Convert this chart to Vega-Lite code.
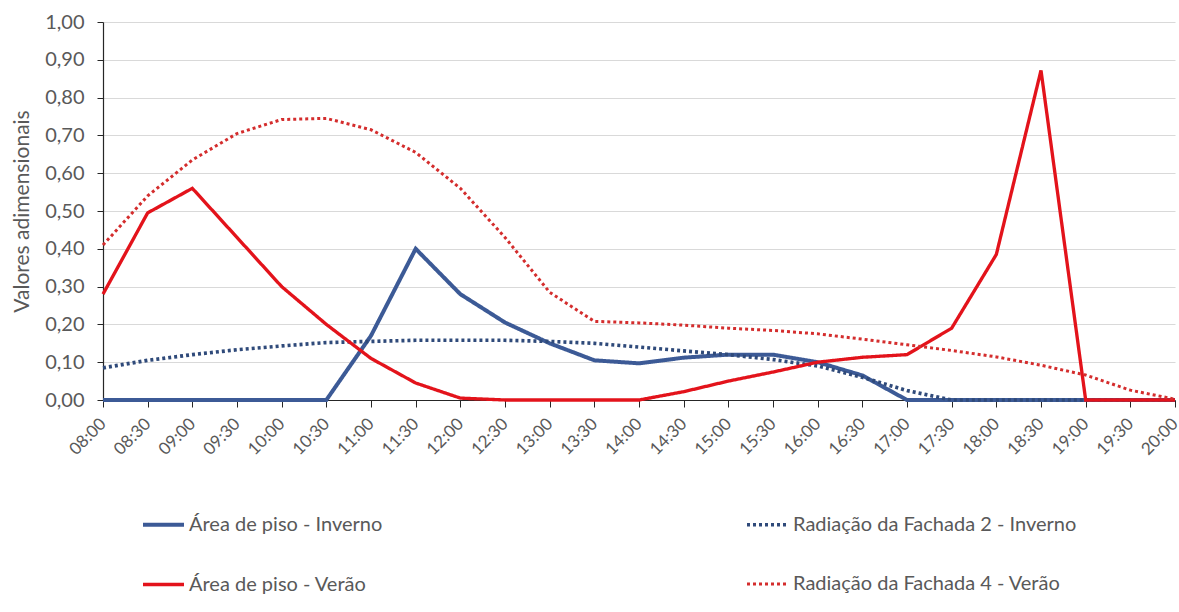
{
  "$schema": "https://vega.github.io/schema/vega-lite/v6.json",
  "width": 1072,
  "height": 378,
  "autosize": "none",
  "padding": {"left": 103, "top": 22, "right": 4, "bottom": 212},
  "config": {
    "locale": {"number": {"decimal": ",", "thousands": ".", "grouping": [3], "currency": ["R$", ""]}},
    "view": {"stroke": null},
    "font": "Lato"
  },
  "data": {
    "values": [
      {"t": "08:00", "s": "Área de piso - Inverno", "v": 0},
      {"t": "08:30", "s": "Área de piso - Inverno", "v": 0},
      {"t": "09:00", "s": "Área de piso - Inverno", "v": 0},
      {"t": "09:30", "s": "Área de piso - Inverno", "v": 0},
      {"t": "10:00", "s": "Área de piso - Inverno", "v": 0},
      {"t": "10:30", "s": "Área de piso - Inverno", "v": 0},
      {"t": "11:00", "s": "Área de piso - Inverno", "v": 0.17},
      {"t": "11:30", "s": "Área de piso - Inverno", "v": 0.40},
      {"t": "12:00", "s": "Área de piso - Inverno", "v": 0.28},
      {"t": "12:30", "s": "Área de piso - Inverno", "v": 0.205},
      {"t": "13:00", "s": "Área de piso - Inverno", "v": 0.15},
      {"t": "13:30", "s": "Área de piso - Inverno", "v": 0.105},
      {"t": "14:00", "s": "Área de piso - Inverno", "v": 0.097},
      {"t": "14:30", "s": "Área de piso - Inverno", "v": 0.112},
      {"t": "15:00", "s": "Área de piso - Inverno", "v": 0.12},
      {"t": "15:30", "s": "Área de piso - Inverno", "v": 0.12},
      {"t": "16:00", "s": "Área de piso - Inverno", "v": 0.10},
      {"t": "16:30", "s": "Área de piso - Inverno", "v": 0.065},
      {"t": "17:00", "s": "Área de piso - Inverno", "v": 0},
      {"t": "17:30", "s": "Área de piso - Inverno", "v": 0},
      {"t": "18:00", "s": "Área de piso - Inverno", "v": 0},
      {"t": "18:30", "s": "Área de piso - Inverno", "v": 0},
      {"t": "19:00", "s": "Área de piso - Inverno", "v": 0},
      {"t": "19:30", "s": "Área de piso - Inverno", "v": 0},
      {"t": "20:00", "s": "Área de piso - Inverno", "v": 0},

      {"t": "08:00", "s": "Radiação da Fachada 2 - Inverno", "v": 0.085},
      {"t": "08:30", "s": "Radiação da Fachada 2 - Inverno", "v": 0.105},
      {"t": "09:00", "s": "Radiação da Fachada 2 - Inverno", "v": 0.12},
      {"t": "09:30", "s": "Radiação da Fachada 2 - Inverno", "v": 0.133},
      {"t": "10:00", "s": "Radiação da Fachada 2 - Inverno", "v": 0.143},
      {"t": "10:30", "s": "Radiação da Fachada 2 - Inverno", "v": 0.152},
      {"t": "11:00", "s": "Radiação da Fachada 2 - Inverno", "v": 0.155},
      {"t": "11:30", "s": "Radiação da Fachada 2 - Inverno", "v": 0.158},
      {"t": "12:00", "s": "Radiação da Fachada 2 - Inverno", "v": 0.158},
      {"t": "12:30", "s": "Radiação da Fachada 2 - Inverno", "v": 0.158},
      {"t": "13:00", "s": "Radiação da Fachada 2 - Inverno", "v": 0.155},
      {"t": "13:30", "s": "Radiação da Fachada 2 - Inverno", "v": 0.15},
      {"t": "14:00", "s": "Radiação da Fachada 2 - Inverno", "v": 0.14},
      {"t": "14:30", "s": "Radiação da Fachada 2 - Inverno", "v": 0.13},
      {"t": "15:00", "s": "Radiação da Fachada 2 - Inverno", "v": 0.12},
      {"t": "15:30", "s": "Radiação da Fachada 2 - Inverno", "v": 0.107},
      {"t": "16:00", "s": "Radiação da Fachada 2 - Inverno", "v": 0.09},
      {"t": "16:30", "s": "Radiação da Fachada 2 - Inverno", "v": 0.06},
      {"t": "17:00", "s": "Radiação da Fachada 2 - Inverno", "v": 0.025},
      {"t": "17:30", "s": "Radiação da Fachada 2 - Inverno", "v": 0},
      {"t": "18:00", "s": "Radiação da Fachada 2 - Inverno", "v": 0},
      {"t": "18:30", "s": "Radiação da Fachada 2 - Inverno", "v": 0},
      {"t": "19:00", "s": "Radiação da Fachada 2 - Inverno", "v": 0},
      {"t": "19:30", "s": "Radiação da Fachada 2 - Inverno", "v": 0},
      {"t": "20:00", "s": "Radiação da Fachada 2 - Inverno", "v": 0},

      {"t": "08:00", "s": "Área de piso - Verão", "v": 0.28},
      {"t": "08:30", "s": "Área de piso - Verão", "v": 0.495},
      {"t": "09:00", "s": "Área de piso - Verão", "v": 0.56},
      {"t": "09:30", "s": "Área de piso - Verão", "v": 0.43},
      {"t": "10:00", "s": "Área de piso - Verão", "v": 0.30},
      {"t": "10:30", "s": "Área de piso - Verão", "v": 0.20},
      {"t": "11:00", "s": "Área de piso - Verão", "v": 0.11},
      {"t": "11:30", "s": "Área de piso - Verão", "v": 0.045},
      {"t": "12:00", "s": "Área de piso - Verão", "v": 0.005},
      {"t": "12:30", "s": "Área de piso - Verão", "v": 0},
      {"t": "13:00", "s": "Área de piso - Verão", "v": 0},
      {"t": "13:30", "s": "Área de piso - Verão", "v": 0},
      {"t": "14:00", "s": "Área de piso - Verão", "v": 0},
      {"t": "14:30", "s": "Área de piso - Verão", "v": 0.022},
      {"t": "15:00", "s": "Área de piso - Verão", "v": 0.05},
      {"t": "15:30", "s": "Área de piso - Verão", "v": 0.074},
      {"t": "16:00", "s": "Área de piso - Verão", "v": 0.10},
      {"t": "16:30", "s": "Área de piso - Verão", "v": 0.113},
      {"t": "17:00", "s": "Área de piso - Verão", "v": 0.12},
      {"t": "17:30", "s": "Área de piso - Verão", "v": 0.19},
      {"t": "18:00", "s": "Área de piso - Verão", "v": 0.385},
      {"t": "18:30", "s": "Área de piso - Verão", "v": 0.872},
      {"t": "19:00", "s": "Área de piso - Verão", "v": 0},
      {"t": "19:30", "s": "Área de piso - Verão", "v": 0},
      {"t": "20:00", "s": "Área de piso - Verão", "v": 0},

      {"t": "08:00", "s": "Radiação da Fachada 4 - Verão", "v": 0.41},
      {"t": "08:30", "s": "Radiação da Fachada 4 - Verão", "v": 0.54},
      {"t": "09:00", "s": "Radiação da Fachada 4 - Verão", "v": 0.635},
      {"t": "09:30", "s": "Radiação da Fachada 4 - Verão", "v": 0.705},
      {"t": "10:00", "s": "Radiação da Fachada 4 - Verão", "v": 0.742},
      {"t": "10:30", "s": "Radiação da Fachada 4 - Verão", "v": 0.745},
      {"t": "11:00", "s": "Radiação da Fachada 4 - Verão", "v": 0.715},
      {"t": "11:30", "s": "Radiação da Fachada 4 - Verão", "v": 0.655},
      {"t": "12:00", "s": "Radiação da Fachada 4 - Verão", "v": 0.56},
      {"t": "12:30", "s": "Radiação da Fachada 4 - Verão", "v": 0.43},
      {"t": "13:00", "s": "Radiação da Fachada 4 - Verão", "v": 0.285},
      {"t": "13:30", "s": "Radiação da Fachada 4 - Verão", "v": 0.208},
      {"t": "14:00", "s": "Radiação da Fachada 4 - Verão", "v": 0.204},
      {"t": "14:30", "s": "Radiação da Fachada 4 - Verão", "v": 0.198},
      {"t": "15:00", "s": "Radiação da Fachada 4 - Verão", "v": 0.19},
      {"t": "15:30", "s": "Radiação da Fachada 4 - Verão", "v": 0.184},
      {"t": "16:00", "s": "Radiação da Fachada 4 - Verão", "v": 0.175},
      {"t": "16:30", "s": "Radiação da Fachada 4 - Verão", "v": 0.161},
      {"t": "17:00", "s": "Radiação da Fachada 4 - Verão", "v": 0.146},
      {"t": "17:30", "s": "Radiação da Fachada 4 - Verão", "v": 0.131},
      {"t": "18:00", "s": "Radiação da Fachada 4 - Verão", "v": 0.114},
      {"t": "18:30", "s": "Radiação da Fachada 4 - Verão", "v": 0.092},
      {"t": "19:00", "s": "Radiação da Fachada 4 - Verão", "v": 0.066},
      {"t": "19:30", "s": "Radiação da Fachada 4 - Verão", "v": 0.026},
      {"t": "20:00", "s": "Radiação da Fachada 4 - Verão", "v": 0.002}
    ]
  },
  "mark": {"type": "line", "strokeCap": "butt", "strokeJoin": "miter"},
  "encoding": {
    "x": {
      "field": "t", "type": "ordinal", "sort": null,
      "scale": {"type": "point", "padding": 0},
      "axis": {
        "title": null, "labelAngle": -45, "labelAlign": "right", "labelBaseline": "middle",
        "labelFontSize": 17, "labelColor": "#595959",
        "labelFont": "Lato", "domainColor": "#262626", "domainWidth": 1.2,
        "tickColor": "#262626", "tickSize": 7, "labelPadding": 14, "grid": false
      }
    },
    "y": {
      "field": "v", "type": "quantitative",
      "scale": {"domain": [0, 1], "nice": false},
      "axis": {
        "title": "Valores adimensionais", "titleFontSize": 21, "titleFontWeight": "normal",
        "titleColor": "#595959", "titleFont": "Lato", "titlePadding": 12,
        "format": ".2f", "values": [0, 0.1, 0.2, 0.3, 0.4, 0.5, 0.6, 0.7, 0.8, 0.9, 1.0],
        "labelFontSize": 20, "labelColor": "#595959", "labelFont": "Lato",
        "domain": true, "domainColor": "#262626", "domainWidth": 1.2,
        "tickColor": "#262626", "tickSize": 6, "labelPadding": 13,
        "grid": true, "gridColor": "#D9D9D9", "gridWidth": 1
      }
    },
    "color": {
      "field": "s", "type": "nominal",
      "scale": {
        "domain": ["Área de piso - Inverno", "Radiação da Fachada 2 - Inverno", "Área de piso - Verão", "Radiação da Fachada 4 - Verão"],
        "range": ["#3C5A96", "#2F4A7A", "#E3131B", "#D42D2D"]
      },
      "legend": {
        "title": null, "orient": "none", "legendX": 38, "legendY": 480,
        "direction": "horizontal", "columns": 2, "columnPadding": 356, "rowPadding": 27,
        "symbolType": "stroke", "symbolSize": 1681, "labelFontSize": 20,
        "labelColor": "#595959", "labelFont": "Lato", "labelOffset": 3, "labelLimit": 400
      }
    },
    "strokeDash": {
      "field": "s", "type": "nominal",
      "scale": {
        "domain": ["Área de piso - Inverno", "Radiação da Fachada 2 - Inverno", "Área de piso - Verão", "Radiação da Fachada 4 - Verão"],
        "range": [[1, 0], [3, 3], [1, 0], [3, 3]]
      },
      "legend": null
    },
    "strokeWidth": {
      "field": "s", "type": "ordinal",
      "scale": {
        "domain": ["Área de piso - Inverno", "Radiação da Fachada 2 - Inverno", "Área de piso - Verão", "Radiação da Fachada 4 - Verão"],
        "range": [4, 3, 4, 3]
      },
      "legend": null
    }
  }
}
